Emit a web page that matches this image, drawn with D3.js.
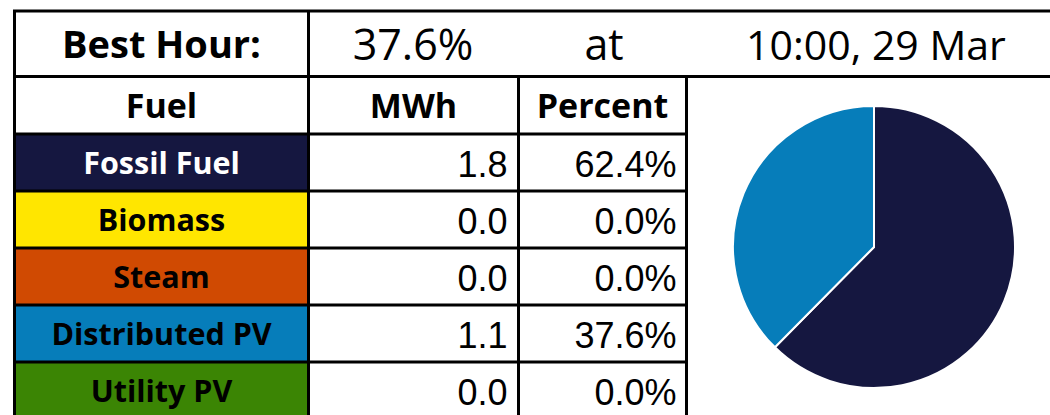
<!DOCTYPE html>
<html>
<head>
<meta charset="utf-8">
<script src="https://cdn.jsdelivr.net/npm/d3@7"></script>
<style>
  body { margin: 0; background: #fff; }
  svg { display: block; }
</style>
</head>
<body>
<div id="chart"></div>
<script>
const fuels = ['Fossil Fuel', 'Biomass', 'Steam', 'Distributed PV', 'Utility PV'];
const mwh = [1.8, 0.0, 0.0, 1.1, 0.0];
const percent = [62.4, 0.0, 0.0, 37.6, 0.0];
const fuelColors = ['#151740', '#ffe600', '#d04a02', '#067dba', '#3b8504'];
const fuelText = ['#ffffff', '#000000', '#000000', '#000000', '#000000'];
const headers = ['Fuel', 'MWh', 'Percent'];
const best = { label: 'Best Hour:', share: '37.6%', at: 'at', when: '10:00, 29 Mar' };

const width = 1050;
const height = 415;

const svg = d3
  .select('#chart')
  .append('svg')
  .attr('width', width)
  .attr('height', height);

// table geometry
const colX = [14.5, 308.5, 518.5, 686.5];
const tableTop = 11;
const titleBottom = 76.5;
const headerBottom = 134;
const rowH = 57;
const rowY = d3.scaleLinear().domain([0, 1]).range([headerBottom, headerBottom + rowH]);

const boldFont = "'Open Sans', sans-serif";
const numFont = "'Liberation Sans', Arial, sans-serif";

// fuel cell fills
svg
  .append('g')
  .selectAll('rect')
  .data(fuels)
  .join('rect')
  .attr('x', colX[0])
  .attr('y', (d, i) => rowY(i))
  .attr('width', colX[1] - colX[0])
  .attr('height', rowH)
  .attr('fill', (d, i) => fuelColors[i]);

// title row
const title = svg.append('g');
title
  .append('text')
  .attr('x', (colX[0] + colX[1]) / 2)
  .attr('y', 58)
  .attr('text-anchor', 'middle')
  .style('font-family', boldFont)
  .style('font-weight', 700)
  .style('font-size', '38px')
  .text(best.label);

[[best.share, 413], [best.at, 604], [best.when, 876]].forEach(([t, x]) => {
  title
    .append('text')
    .attr('x', x)
    .attr('y', 60)
    .attr('text-anchor', 'middle')
    .style('font-family', boldFont)
    .style('font-size', t === best.when ? '41px' : '43px')
    .text(t);
});

// header row
svg
  .append('g')
  .selectAll('text')
  .data(headers)
  .join('text')
  .attr('x', (d, i) => (colX[i] + colX[i + 1]) / 2)
  .attr('y', 118)
  .attr('text-anchor', 'middle')
  .style('font-family', boldFont)
  .style('font-weight', 700)
  .style('font-size', '34px')
  .text((d) => d);

// fuel names
svg
  .append('g')
  .selectAll('text')
  .data(fuels)
  .join('text')
  .attr('x', (colX[0] + colX[1]) / 2)
  .attr('y', (d, i) => rowY(i) + rowH / 2 + 11)
  .attr('text-anchor', 'middle')
  .attr('fill', (d, i) => fuelText[i])
  .style('font-family', boldFont)
  .style('font-weight', 700)
  .style('font-size', '30.5px')
  .text((d) => d);

// values
svg
  .append('g')
  .selectAll('text')
  .data(mwh)
  .join('text')
  .attr('x', colX[2] - 11)
  .attr('y', (d, i) => rowY(i) + rowH / 2 + 14)
  .attr('text-anchor', 'end')
  .style('font-family', numFont)
  .style('font-size', '36px')
  .text((d) => d3.format('.1f')(d));

svg
  .append('g')
  .selectAll('text')
  .data(percent)
  .join('text')
  .attr('x', colX[3] - 10)
  .attr('y', (d, i) => rowY(i) + rowH / 2 + 14)
  .attr('text-anchor', 'end')
  .style('font-family', numFont)
  .style('font-size', '36px')
  .text((d) => d3.format('.1f')(d) + '%');

// grid lines
const grid = svg.append('g').attr('stroke', '#000').attr('stroke-width', 3);
grid.append('line').attr('x1', colX[0] - 1.5).attr('x2', width).attr('y1', tableTop).attr('y2', tableTop);
grid.append('line').attr('x1', colX[0]).attr('x2', width).attr('y1', titleBottom).attr('y2', titleBottom);
grid.append('line').attr('x1', colX[0]).attr('x2', colX[0]).attr('y1', tableTop).attr('y2', height);
grid.append('line').attr('x1', colX[1]).attr('x2', colX[1]).attr('y1', tableTop).attr('y2', height);
grid.append('line').attr('x1', colX[2]).attr('x2', colX[2]).attr('y1', titleBottom).attr('y2', height);
grid.append('line').attr('x1', colX[3]).attr('x2', colX[3]).attr('y1', titleBottom).attr('y2', height);
grid
  .selectAll('.row')
  .data(d3.range(fuels.length))
  .join('line')
  .attr('class', 'row')
  .attr('x1', colX[0])
  .attr('x2', colX[3])
  .attr('y1', (i) => rowY(i))
  .attr('y2', (i) => rowY(i));

// pie
const pieData = fuels
  .map((f, i) => ({ fuel: f, value: percent[i], color: fuelColors[i] }))
  .filter((d) => d.value > 0);
const pie = d3.pie().sort(null).value((d) => d.value);
const arc = d3.arc().innerRadius(0).outerRadius(141);

svg
  .append('g')
  .attr('transform', 'translate(874,247)')
  .selectAll('path')
  .data(pie(pieData))
  .join('path')
  .attr('d', arc)
  .attr('fill', (d) => d.data.color)
  .attr('stroke', '#fff')
  .attr('stroke-width', 2);
</script>
</body>
</html>
